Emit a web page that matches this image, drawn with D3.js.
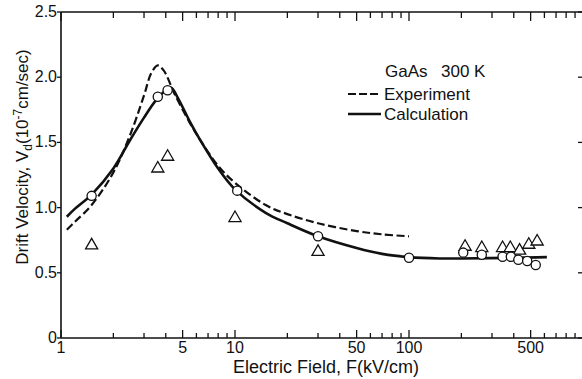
<!DOCTYPE html>
<html><head><meta charset="utf-8">
<script src="https://cdn.jsdelivr.net/npm/d3@7"></script>
<style>body{margin:0;background:#fff}svg{display:block}text{font-family:'Liberation Sans',Arial,sans-serif;fill:#111}</style>
</head><body><svg id="c" width="582" height="379"></svg>
<script>
// Experiment (dashed curve): field kV/cm, velocity 1e7 cm/s
const expF = [1.08,1.2,1.5,2.0,2.5,3.0,3.3,3.6,3.9,4.5,5.5,6.3,8,10,15,20,30,50,70,100];
const expV = [0.83,0.89,1.02,1.27,1.56,1.86,2.03,2.09,2.05,1.87,1.65,1.52,1.32,1.19,1.02,0.95,0.88,0.82,0.795,0.78];
// Calculation (solid curve)
const calF = [1.08,1.2,1.5,2.0,2.5,3.0,3.5,4.0,4.3,4.7,5.5,6.3,8,10,15,20,30,50,70,100,150,200,400,620];
const calV = [0.93,0.99,1.10,1.30,1.52,1.69,1.82,1.90,1.92,1.84,1.66,1.52,1.30,1.14,0.96,0.88,0.78,0.69,0.645,0.62,0.61,0.61,0.615,0.62];
// Circles (calculated points)
const circF = [1.5,3.6,4.1,10.3,30,100,205,262,345,385,425,478,535];
const circV = [1.09,1.85,1.90,1.13,0.78,0.615,0.655,0.638,0.623,0.623,0.60,0.59,0.56];
// Triangles (measured points)
const triF = [1.5,3.6,4.1,10,30,210,262,345,382,432,488,545];
const triV = [0.71,1.30,1.39,0.92,0.66,0.70,0.69,0.69,0.69,0.67,0.715,0.74];
// ticks
const yTicks = [0,0.5,1.0,1.5,2.0,2.5];
const yTickLabels = ["0","0.5","1.0","1.5","2.0","2.5"];
const xLabelVals = [1,5,10,50,100,500];
const xLabelText = ["1","5","10","50","100","500"];
const xMinor = [2,3,4,6,7,8,9,20,30,40,60,70,80,90,200,300,400,600,700,800,900];

const svg = d3.select("#c");
const x = d3.scaleLog().domain([1,1000]).range([61,583]);
const y = d3.scaleLinear().domain([0,2.5]).range([338,12]);
const ink = "#111";

// frame
svg.append("line").attr("x1",x(1)).attr("x2",x(1000)).attr("y1",y(0)).attr("y2",y(0)).attr("stroke",ink).attr("stroke-width",1.6);
svg.append("line").attr("x1",x(1)).attr("x2",x(1000)).attr("y1",y(2.5)).attr("y2",y(2.5)).attr("stroke",ink).attr("stroke-width",1.6);
svg.append("line").attr("x1",x(1)).attr("x2",x(1)).attr("y1",y(0)).attr("y2",y(2.5)).attr("stroke",ink).attr("stroke-width",1.6);
svg.append("line").attr("x1",x(1000)).attr("x2",x(1000)).attr("y1",y(0)).attr("y2",y(2.5)).attr("stroke",ink).attr("stroke-width",1.6);

// x ticks bottom and top
const majors = [1,5,10,50,100,500,1000];
const allX = majors.map(v=>({v,len:8})).concat(xMinor.map(v=>({v,len:5})));
svg.selectAll(".xtb").data(allX).enter().append("line")
  .attr("x1",d=>x(d.v)).attr("x2",d=>x(d.v)).attr("y1",y(0)).attr("y2",d=>y(0)-d.len)
  .attr("stroke",ink).attr("stroke-width",1.3);
svg.selectAll(".xtt").data(allX).enter().append("line")
  .attr("x1",d=>x(d.v)).attr("x2",d=>x(d.v)).attr("y1",y(2.5)).attr("y2",d=>y(2.5)+d.len+1)
  .attr("stroke",ink).attr("stroke-width",1.3);
svg.selectAll(".xl").data(xLabelVals).enter().append("text")
  .attr("x",d=>x(d)).attr("y",353).attr("text-anchor","middle").attr("font-size",16)
  .text((d,i)=>xLabelText[i]);

// y ticks
svg.selectAll(".ytl").data(yTicks).enter().append("line")
  .attr("x1",x(1)-4).attr("x2",x(1)).attr("y1",d=>y(d)).attr("y2",d=>y(d)).attr("stroke",ink).attr("stroke-width",1.3);
svg.selectAll(".ytr").data(yTicks).enter().append("line")
  .attr("x1",x(1000)-5).attr("x2",x(1000)).attr("y1",d=>y(d)).attr("y2",d=>y(d)).attr("stroke",ink).attr("stroke-width",1.3);
svg.selectAll(".yl").data(yTicks).enter().append("text")
  .attr("x",57).attr("y",d=>y(d)+5).attr("text-anchor","end").attr("font-size",16)
  .text((d,i)=>yTickLabels[i]);

// axis titles
svg.append("text").attr("x",326).attr("y",373).attr("text-anchor","middle").attr("font-size",18)
  .text("Electric Field, F(kV/cm)");
const yt = svg.append("text").attr("transform","translate(28,157) rotate(-90)").attr("text-anchor","middle").attr("font-size",17);
yt.append("tspan").text("Drift Velocity,  V");
yt.append("tspan").attr("font-size",12).attr("dy",4).text("d");
yt.append("tspan").attr("dy",-4).text("(10");
yt.append("tspan").attr("font-size",12).attr("dy",-6).text("-7");
yt.append("tspan").attr("dy",6).text("cm/sec)");

// curves
const line = d3.line().x(d=>x(d[0])).y(d=>y(d[1])).curve(d3.curveCatmullRom.alpha(0.5));
svg.append("path").datum(expF.map((f,i)=>[f,expV[i]])).attr("d",line)
  .attr("fill","none").attr("stroke",ink).attr("stroke-width",2.2).attr("stroke-dasharray","8,3.5");
svg.append("path").datum(calF.map((f,i)=>[f,calV[i]])).attr("d",line)
  .attr("fill","none").attr("stroke",ink).attr("stroke-width",2.6);

// triangles
const tri = d3.symbol().type(d3.symbolTriangle).size(64);
svg.selectAll(".tri").data(triF.map((f,i)=>[f,triV[i]])).enter().append("path")
  .attr("d",tri).attr("transform",d=>`translate(${x(d[0])},${y(d[1])})`)
  .attr("fill","white").attr("stroke",ink).attr("stroke-width",1.3);
// circles
svg.selectAll(".circ").data(circF.map((f,i)=>[f,circV[i]])).enter().append("circle")
  .attr("cx",d=>x(d[0])).attr("cy",d=>y(d[1])).attr("r",4.6)
  .attr("fill","white").attr("stroke",ink).attr("stroke-width",1.3);

// legend
svg.append("text").attr("x",385).attr("y",77).attr("font-size",17).text("GaAs");
svg.append("text").attr("x",441).attr("y",77).attr("font-size",17).text("300 K");
svg.append("line").attr("x1",348).attr("x2",381).attr("y1",94).attr("y2",94).attr("stroke",ink).attr("stroke-width",2.2).attr("stroke-dasharray","8,3");
svg.append("text").attr("x",384).attr("y",100).attr("font-size",17).text("Experiment");
svg.append("line").attr("x1",348).attr("x2",381).attr("y1",114).attr("y2",114).attr("stroke",ink).attr("stroke-width",2.6);
svg.append("text").attr("x",384).attr("y",120).attr("font-size",17).text("Calculation");
</script></body></html>
